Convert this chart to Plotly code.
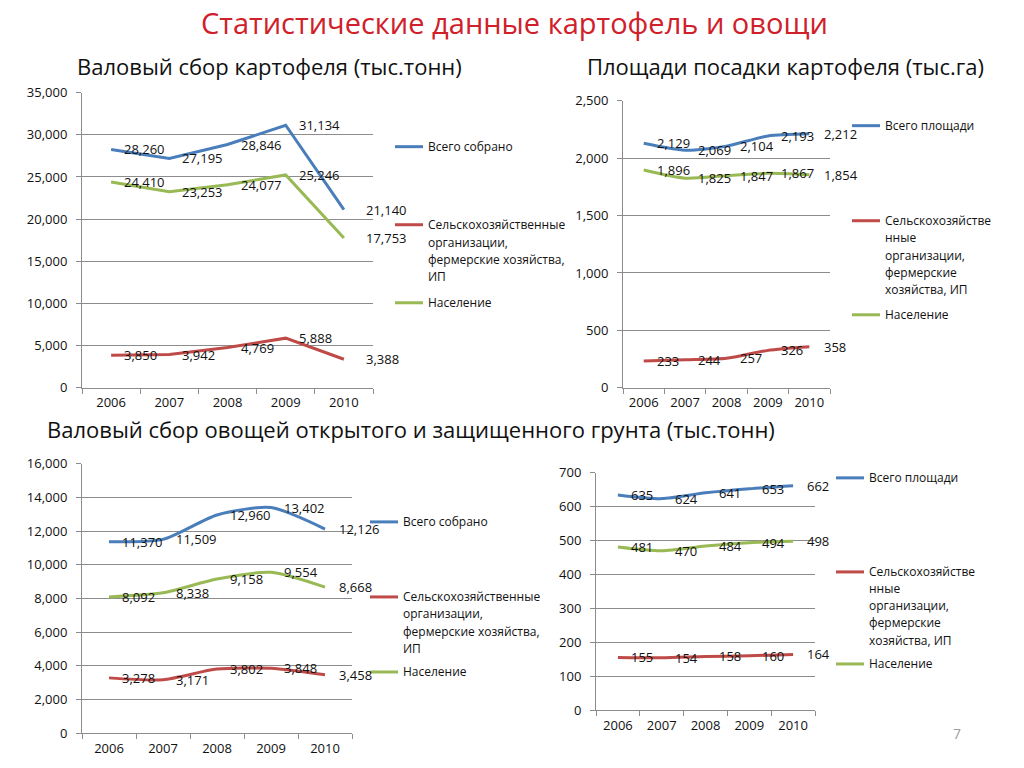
import plotly.graph_objects as go

W, H = 1024, 768

years = ["2006", "2007", "2008", "2009", "2010"]

# Валовый сбор картофеля (тыс.тонн)
potato_total = [28260, 27195, 28846, 31134, 21140]
potato_agro = [3850, 3942, 4769, 5888, 3388]
potato_pop = [24410, 23253, 24077, 25246, 17753]

# Площади посадки картофеля (тыс.га)
parea_total = [2129, 2069, 2104, 2193, 2212]
parea_agro = [233, 244, 257, 326, 358]
parea_pop = [1896, 1825, 1847, 1867, 1854]

# Валовый сбор овощей (тыс.тонн)
veg_total = [11370, 11509, 12960, 13402, 12126]
veg_agro = [3278, 3171, 3802, 3848, 3458]
veg_pop = [8092, 8338, 9158, 9554, 8668]

# Площади овощей
varea_total = [635, 624, 641, 653, 662]
varea_agro = [155, 154, 158, 160, 164]
varea_pop = [481, 470, 484, 494, 498]

legend_a = [["Всего собрано"],
            ["Сельскохозяйственные", "организации,", "фермерские хозяйства,", "ИП"],
            ["Население"]]
legend_b = [["Всего площади"],
            ["Сельскохозяйстве", "нные", "организации,", "фермерские", "хозяйства, ИП"],
            ["Население"]]

BLUE, RED, GREEN = "#4A7EBB", "#BE4B48", "#98B954"
FONT = "Open Sans"
GRID = "#8C8C8C"

# vertical calibration of the rendered page
YS, YO = 0.976, 9.4

def fx(px):
    return px / W

def fy(py):
    return 1 - ((py - YO) / YS) / H

charts = [
    dict(x0=82, x1=373, ytop=93, ybot=388, rng=35000, dt=5000,
         series=[potato_total, potato_agro, potato_pop], smooth=False,
         leg=legend_a, lx=395, lys=[[147], [225, 243, 260, 277], [303]], lastshift=20),
    dict(x0=623, x1=830, ytop=101, ybot=388, rng=2500, dt=500,
         series=[parea_total, parea_agro, parea_pop], smooth=True,
         leg=legend_b, lx=852, lys=[[126], [221, 238, 256, 273, 290], [315]], lastshift=13),
    dict(x0=82, x1=352, ytop=464, ybot=733, rng=16000, dt=2000,
         series=[veg_total, veg_agro, veg_pop], smooth=True,
         leg=legend_a, lx=370, lys=[[522], [597, 614, 632, 649], [672]], lastshift=12),
    dict(x0=596, x1=815, ytop=473, ybot=710, rng=700, dt=100,
         series=[varea_total, varea_agro, varea_pop], smooth=True,
         leg=legend_b, lx=836, lys=[[478], [572, 589, 606, 623, 641], [664]], lastshift=12),
]

colors = [BLUE, RED, GREEN]

fig = go.Figure()
annotations = []
shapes = []

for i, c in enumerate(charts):
    n = "" if i == 0 else str(i + 1)
    xa, ya = "x" + n, "y" + n
    for s, col in zip(c["series"], colors):
        line = dict(color=col, width=3)
        if c["smooth"]:
            line.update(shape="spline", smoothing=0.7)
        fig.add_trace(go.Scatter(x=years, y=s, mode="lines", line=line,
                                 xaxis=xa, yaxis=ya, showlegend=False,
                                 hoverinfo="x+y"))
        for k, v in enumerate(s):
            annotations.append(dict(
                x=k, y=v, xref=xa, yref=ya, text=f"{v:,}", showarrow=False,
                xanchor="left", yanchor="middle",
                xshift=(c["lastshift"] if k == len(s) - 1 else 11),
                font=dict(family=FONT, size=13, color="#111")))
    fig.layout["xaxis" + n] = dict(
        domain=[fx(c["x0"]), fx(c["x1"])], anchor=ya, type="category",
        range=[-0.5, len(years) - 0.5],
        showgrid=False, showline=True, linecolor=GRID, linewidth=1,
        ticks="outside", tickson="boundaries", ticklen=5, tickcolor=GRID,
        ticklabelstandoff=3,
        tickfont=dict(family=FONT, size=13, color="#111"), fixedrange=True)
    fig.layout["yaxis" + n] = dict(
        domain=[fy(c["ybot"]), fy(c["ytop"])], anchor=xa,
        range=[0, c["rng"]], dtick=c["dt"], tick0=0, tickformat=",",
        showgrid=True, gridcolor=GRID, gridwidth=1, zeroline=False,
        showline=True, linecolor=GRID, linewidth=1,
        ticks="outside", ticklen=5, tickcolor=GRID, ticklabelstandoff=6,
        tickfont=dict(family=FONT, size=13, color="#111"), fixedrange=True)
    # legend
    for lines, ys, col in zip(c["leg"], c["lys"], colors):
        shapes.append(dict(type="line", xref="paper", yref="paper",
                           x0=fx(c["lx"]), x1=fx(c["lx"] + 28),
                           y0=fy(ys[0]), y1=fy(ys[0]),
                           line=dict(color=col, width=3)))
        for t, yy in zip(lines, ys):
            annotations.append(dict(
                x=fx(c["lx"] + 31), y=fy(yy), xref="paper", yref="paper",
                text=t, showarrow=False, xanchor="left", yanchor="middle",
                font=dict(family=FONT, size=12, color="#111")))

# titles
annotations.append(dict(x=fx(514), y=fy(23), xref="paper", yref="paper",
                        text="Статистические данные картофель и овощи",
                        showarrow=False, xanchor="center", yanchor="middle",
                        font=dict(family=FONT, size=29, color="#D0202A")))
annotations.append(dict(x=fx(269), y=fy(66), xref="paper", yref="paper",
                        text="Валовый сбор картофеля (тыс.тонн)",
                        showarrow=False, xanchor="center", yanchor="middle",
                        font=dict(family=FONT, size=22, color="#111")))
annotations.append(dict(x=fx(785), y=fy(66), xref="paper", yref="paper",
                        text="Площади посадки картофеля (тыс.га)",
                        showarrow=False, xanchor="center", yanchor="middle",
                        font=dict(family=FONT, size=22, color="#111")))
annotations.append(dict(x=fx(411), y=fy(429), xref="paper", yref="paper",
                        text="Валовый сбор овощей открытого и защищенного грунта (тыс.тонн)",
                        showarrow=False, xanchor="center", yanchor="middle",
                        font=dict(family=FONT, size=22, color="#111")))
annotations.append(dict(x=fx(957), y=fy(733), xref="paper", yref="paper",
                        text="7", showarrow=False, xanchor="center", yanchor="middle",
                        font=dict(family=FONT, size=14, color="#A0A0A0")))

fig.update_layout(width=W, height=H, margin=dict(l=0, r=0, t=0, b=0),
                  paper_bgcolor="white", plot_bgcolor="white",
                  annotations=annotations, shapes=shapes,
                  font=dict(family=FONT, size=12, color="#111"))

fig.write_html("out.html", config={"displayModeBar": False})
